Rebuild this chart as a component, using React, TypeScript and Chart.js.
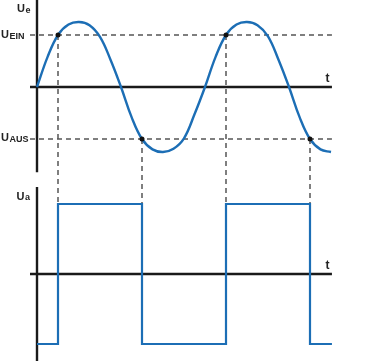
import React, { useEffect, useRef } from "react";
import { Chart, registerables } from "chart.js";

Chart.register(...registerables);

// time axis in degrees of the input sine
const sineDeg = [0, 22.5, 45, 67.5, 90, 112.5, 135, 157.5, 180, 202.5, 225, 247.5, 270, 292.5, 315, 337.5, 360, 382.5, 405, 427.5, 450, 472.5, 495, 517.5, 540, 562.5, 585, 607.5, 630];
const sineUe = [0, 0.46, 0.8, 0.96, 1, 0.95, 0.77, 0.42, 0, -0.46, -0.8, -0.96, -1, -0.95, -0.79, -0.42, 0, 0.46, 0.8, 0.96, 1, 0.95, 0.78, 0.42, 0, -0.46, -0.8, -0.96, -1];

const uEin = 0.8;
const uAus = -0.8;

// switching instants of the trigger and the level it switches on
const switchDeg = [45, 225, 405, 585];
const switchThreshold = [uEin, uAus, uEin, uAus];
const outputHigh = 1;
const outputLow = -1;
const outputStart = 0;
const outputEnd = 632;

const axisStart = -15;
const axisEnd = 632;

const BLUE = "#1c6eb5";
const AXIS = "#1a1a1a";
const DASH = "#555555";

export default function App() {
  const ref = useRef<HTMLCanvasElement | null>(null);

  useEffect(() => {
    if (!ref.current) return;

    // build square wave from switching arrays
    const square: { x: number; y: number }[] = [{ x: outputStart, y: outputLow }];
    let level = outputLow;
    switchDeg.forEach((d, i) => {
      square.push({ x: d, y: level });
      level = switchThreshold[i] === uEin ? outputHigh : outputLow;
      square.push({ x: d, y: level });
    });
    square.push({ x: outputEnd, y: level });

    const sine = sineDeg.map((d, i) => ({ x: d, y: sineUe[i] }));
    const dots = switchDeg.map((d, i) => ({ x: d, y: switchThreshold[i] }));

    const axisDs = (data: any[], yAxisID: string) => ({
      data,
      yAxisID,
      showLine: true,
      borderColor: AXIS,
      borderWidth: 2.4,
      pointRadius: 0,
      order: 5,
    });

    const verticalPlugin = {
      id: "verticals",
      beforeDatasetsDraw(chart: any) {
        const { ctx, scales } = chart;
        ctx.save();
        ctx.strokeStyle = DASH;
        ctx.lineWidth = 1.5;
        ctx.setLineDash([5, 4]);
        switchDeg.forEach((d, i) => {
          const x = scales.x.getPixelForValue(d);
          ctx.beginPath();
          ctx.moveTo(x, scales.yTop.getPixelForValue(switchThreshold[i]));
          ctx.lineTo(x, scales.yBot.getPixelForValue(outputHigh));
          ctx.stroke();
        });
        ctx.restore();
      },
    };

    const labelPlugin = {
      id: "labels",
      afterDatasetsDraw(chart: any) {
        const { ctx, scales } = chart;
        const x0 = scales.x.getPixelForValue(0);
        const drawU = (sub: string, x: number, y: number, subDy: number) => {
          ctx.font = "bold 11px 'Liberation Sans', Arial, sans-serif";
          ctx.fillText("U", x, y);
          const w = ctx.measureText("U").width;
          ctx.font = "bold 9px 'Liberation Sans', Arial, sans-serif";
          ctx.fillText(sub, x + w + 0.5, y + subDy);
        };
        ctx.save();
        ctx.fillStyle = "#222222";
        ctx.textBaseline = "alphabetic";
        ctx.textAlign = "left";
        drawU("e", x0 - 20, 12, 0.5);
        drawU("EIN", 1, scales.yTop.getPixelForValue(uEin) + 3, 1);
        drawU("AUS", 1, scales.yTop.getPixelForValue(uAus) + 2.5, 1);
        drawU("a", x0 - 20.5, scales.yBot.getPixelForValue(outputHigh) - 4, 0.5);
        ctx.font = "bold 12px 'Liberation Sans', Arial, sans-serif";
        const tx = scales.x.getPixelForValue(618);
        ctx.fillText("t", tx, scales.yTop.getPixelForValue(0) - 4.5);
        ctx.fillText("t", tx, scales.yBot.getPixelForValue(0) - 4.5);
        ctx.restore();
      },
    };

    const chart = new Chart(ref.current, {
      type: "scatter",
      data: {
        datasets: [
          {
            data: dots,
            yAxisID: "yTop",
            showLine: false,
            pointRadius: 2.5,
            pointBackgroundColor: "#111111",
            pointBorderWidth: 0,
            order: 0,
          },
          {
            data: sine,
            yAxisID: "yTop",
            showLine: true,
            borderColor: BLUE,
            borderWidth: 2.4,
            pointRadius: 0,
            tension: 0.4,
            order: 1,
          },
          {
            data: square,
            yAxisID: "yBot",
            showLine: true,
            borderColor: BLUE,
            borderWidth: 2.2,
            pointRadius: 0,
            order: 1,
          },
          {
            data: [{ x: axisStart, y: uEin }, { x: axisEnd, y: uEin }],
            yAxisID: "yTop",
            showLine: true,
            borderColor: DASH,
            borderWidth: 1.5,
            borderDash: [5, 4],
            pointRadius: 0,
            order: 6,
          },
          {
            data: [{ x: axisStart, y: uAus }, { x: axisEnd, y: uAus }],
            yAxisID: "yTop",
            showLine: true,
            borderColor: DASH,
            borderWidth: 1.5,
            borderDash: [5, 4],
            pointRadius: 0,
            order: 6,
          },
          axisDs([{ x: axisStart, y: 0 }, { x: axisEnd, y: 0 }], "yTop"),
          axisDs([{ x: 0, y: 1.4 }, { x: 0, y: -1.31 }], "yTop"),
          axisDs([{ x: axisStart, y: 0 }, { x: axisEnd, y: 0 }], "yBot"),
          axisDs([{ x: 0, y: 1.243 }, { x: 0, y: -1.3 }], "yBot"),
        ] as any,
      },
      options: {
        animation: false,
        responsive: false,
        maintainAspectRatio: false,
        layout: { padding: 0, autoPadding: false },
        plugins: { legend: { display: false }, tooltip: { enabled: false } },
        events: [],
        scales: {
          x: { type: "linear", min: -79.29, max: 722.14, display: false },
          yTop: { type: "linear", position: "left", min: -4.215, max: 1.338, display: false },
          yBot: { type: "linear", position: "left", min: -1.243, max: 3.914, display: false },
        },
      },
      plugins: [verticalPlugin, labelPlugin],
    });

    return () => chart.destroy();
  }, []);

  return (
    <div style={{ position: "absolute", left: 0, top: 0, width: 374, height: 361, background: "#ffffff" }}>
      <canvas ref={ref} width={374} height={361} style={{ width: 374, height: 361, display: "block" }} />
    </div>
  );
}
